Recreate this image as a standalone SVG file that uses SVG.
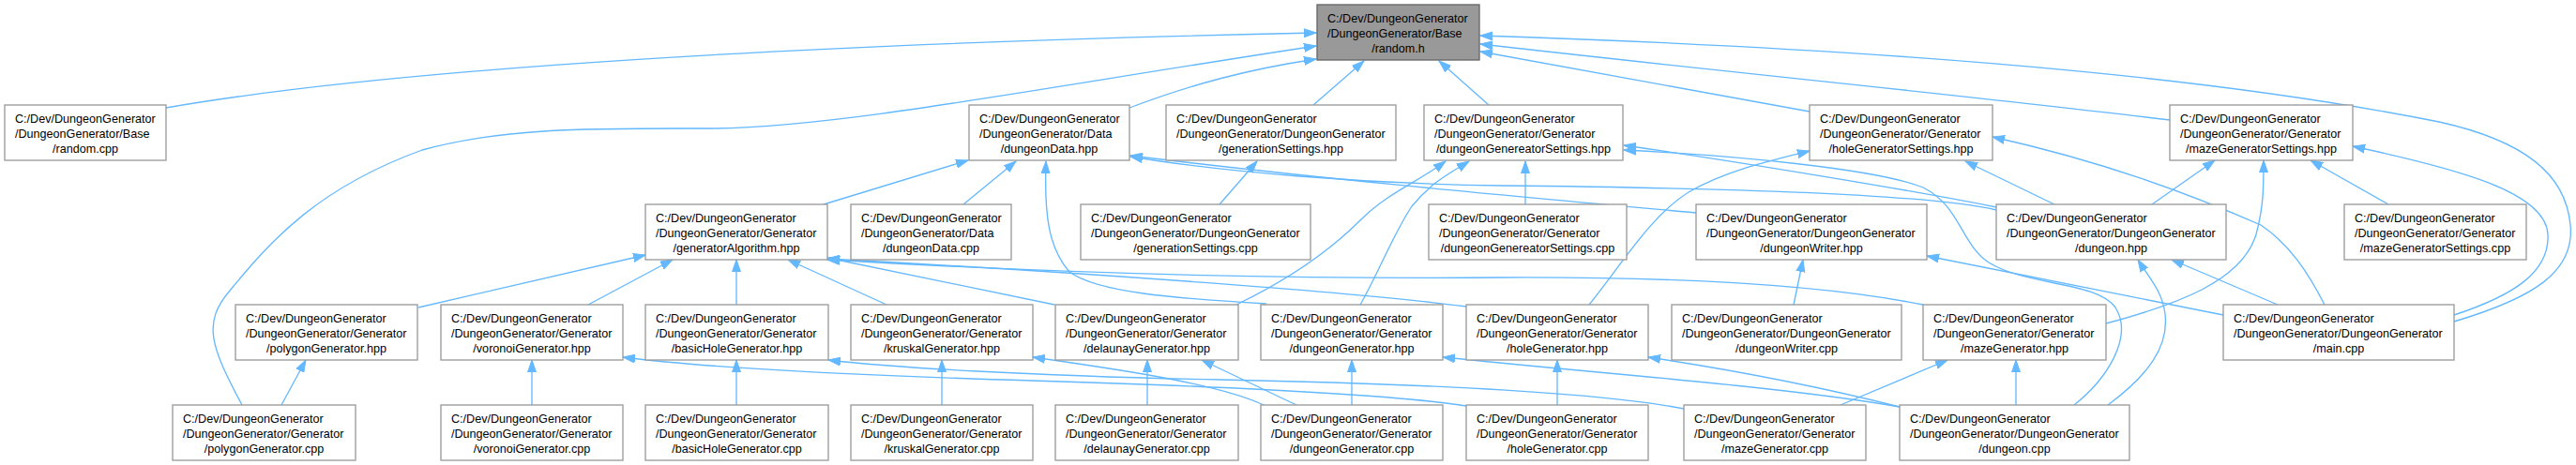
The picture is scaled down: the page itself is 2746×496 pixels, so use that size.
<svg xmlns="http://www.w3.org/2000/svg" width="2746" height="496" viewBox="0 0 2746 496">
<style>
.n rect{fill:#ffffff;stroke:#999999;stroke-width:1.33}
.root rect{fill:#999999;stroke:#666666;stroke-width:1.33}
text{font-family:"Liberation Sans",Arial,Helvetica,sans-serif;font-size:12.6px;fill:#000000}
.c{text-anchor:middle}
#edges path{fill:none;stroke:#63b8ff;stroke-width:1.33;marker-end:url(#ah)}
</style>
<defs>
<marker id="ah" markerUnits="userSpaceOnUse" markerWidth="14" markerHeight="10" refX="13" refY="5" orient="auto">
<path d="M0,0.5 L13,5 L0,9.5 z" fill="#63b8ff" stroke="#63b8ff" stroke-width="1"/>
</marker>
</defs>
<rect width="2746" height="496" fill="#ffffff"/>
<g id="edges">
<path d="M177,115 C350,85 700,50 1403,35"/>
<path d="M258,432 C225,370 215,345 245,310 C290,255 340,200 450,160 C540,135 640,137 760,137 C900,135 1100,95 1403,49"/>
<path d="M1204,115 C1270,90 1330,74 1403,63"/>
<path d="M1400,112 L1454,65"/>
<path d="M1587,112 L1534,65"/>
<path d="M1929,119 L1578,55"/>
<path d="M2313,128 C2100,102 1850,78 1578,47"/>
<path d="M2616,343 C2700,318 2745,290 2740,240 C2735,185 2690,150 2600,130 C2400,90 2100,55 1578,38"/>
<path d="M878,218 L1032,171"/>
<path d="M1027,218 L1083,172"/>
<path d="M1350,324 C1250,318 1170,312 1140,290 C1118,265 1113,230 1115,172"/>
<path d="M1300,218 L1340,172"/>
<path d="M1808,227 C1600,208 1400,190 1205,166"/>
<path d="M2128,224 C2050,205 1800,200 1600,198 C1450,196 1300,183 1205,167"/>
<path d="M1318,325 C1380,295 1420,265 1450,235 C1480,205 1510,195 1541,172"/>
<path d="M1450,325 C1470,290 1485,250 1505,220 C1525,195 1545,185 1566,172"/>
<path d="M1626,218 L1626,172"/>
<path d="M2128,221 C2050,205 1850,172 1731,155"/>
<path d="M2211,432 C2245,405 2275,360 2255,328 C2235,300 2160,305 2120,280 C2090,260 2090,220 2050,200 C2000,180 1850,166 1731,160"/>
<path d="M2190,218 L2095,172"/>
<path d="M2294,218 L2361,171"/>
<path d="M1694,325 C1730,280 1760,230 1800,205 C1840,182 1885,172 1929,161"/>
<path d="M2478,325 C2460,290 2440,260 2410,240 C2330,205 2240,172 2124,146"/>
<path d="M2616,336 C2680,315 2718,290 2716,250 C2714,205 2620,180 2508,156"/>
<path d="M2546,218 L2463,171"/>
<path d="M2245,345 C2320,325 2390,300 2405,250 C2413,220 2413,200 2413,171"/>
<path d="M2428,325 L2315,277"/>
<path d="M2247,432 C2290,400 2312,370 2308,335 C2305,310 2290,295 2279,277"/>
<path d="M2370,336 L2054,273"/>
<path d="M1912,325 L1922,277"/>
<path d="M446,328 L688,272"/>
<path d="M627,325 L717,277"/>
<path d="M785,325 L785,277"/>
<path d="M945,325 L840,277"/>
<path d="M1124,325 L882,275"/>
<path d="M1563,327 C1450,312 1150,290 882,276"/>
<path d="M2050,325 C1950,305 1800,295 1600,296 C1350,298 1100,290 882,277"/>
<path d="M1441,432 L1441,384"/>
<path d="M1382,432 L1281,384"/>
<path d="M1347,432 C1300,410 1200,395 1101,381"/>
<path d="M1563,433 C1480,420 1300,412 1100,406 C900,400 750,392 664,381"/>
<path d="M1795,436 C1700,418 1500,409 1300,405 C1100,401 950,392 883,384"/>
<path d="M1660,432 L1660,384"/>
<path d="M2025,434 C1900,412 1700,398 1538,381"/>
<path d="M2025,434 C1950,415 1850,395 1757,381"/>
<path d="M2149,432 L2149,384"/>
<path d="M1962,432 L2076,384"/>
<path d="M300,432 L326,384"/>
<path d="M567,432 L567,384"/>
<path d="M785,432 L785,384"/>
<path d="M1004,432 L1004,384"/>
<path d="M1223,432 L1223,384"/>
</g>
<g id="random_h" class="root"><rect x="1404" y="5" width="173" height="59"/><text x="1415" y="23.5">C:/Dev/DungeonGenerator</text><text x="1415" y="39.5">/DungeonGenerator/Base</text><text class="c" x="1490.5" y="55.5">/random.h</text></g>
<g id="random_cpp" class="n"><rect x="5" y="112" width="172" height="59"/><text x="16" y="130.5">C:/Dev/DungeonGenerator</text><text x="16" y="146.5">/DungeonGenerator/Base</text><text class="c" x="91" y="162.5">/random.cpp</text></g>
<g id="dungeonData_hpp" class="n"><rect x="1033" y="112" width="171" height="59"/><text x="1044" y="130.5">C:/Dev/DungeonGenerator</text><text x="1044" y="146.5">/DungeonGenerator/Data</text><text class="c" x="1118.5" y="162.5">/dungeonData.hpp</text></g>
<g id="generationSettings_hpp" class="n"><rect x="1243" y="112" width="245" height="59"/><text x="1254" y="130.5">C:/Dev/DungeonGenerator</text><text x="1254" y="146.5">/DungeonGenerator/DungeonGenerator</text><text class="c" x="1365.5" y="162.5">/generationSettings.hpp</text></g>
<g id="dungeonGenereatorSettings_hpp" class="n"><rect x="1518" y="112" width="212" height="59"/><text x="1529" y="130.5">C:/Dev/DungeonGenerator</text><text x="1529" y="146.5">/DungeonGenerator/Generator</text><text class="c" x="1624" y="162.5">/dungeonGenereatorSettings.hpp</text></g>
<g id="holeGeneratorSettings_hpp" class="n"><rect x="1929" y="112" width="195" height="59"/><text x="1940" y="130.5">C:/Dev/DungeonGenerator</text><text x="1940" y="146.5">/DungeonGenerator/Generator</text><text class="c" x="2026.5" y="162.5">/holeGeneratorSettings.hpp</text></g>
<g id="mazeGeneratorSettings_hpp" class="n"><rect x="2313" y="112" width="195" height="59"/><text x="2324" y="130.5">C:/Dev/DungeonGenerator</text><text x="2324" y="146.5">/DungeonGenerator/Generator</text><text class="c" x="2410.5" y="162.5">/mazeGeneratorSettings.hpp</text></g>
<g id="generatorAlgorithm_hpp" class="n"><rect x="688" y="218" width="194" height="59"/><text x="699" y="236.5">C:/Dev/DungeonGenerator</text><text x="699" y="252.5">/DungeonGenerator/Generator</text><text class="c" x="785" y="268.5">/generatorAlgorithm.hpp</text></g>
<g id="dungeonData_cpp" class="n"><rect x="907" y="218" width="171" height="59"/><text x="918" y="236.5">C:/Dev/DungeonGenerator</text><text x="918" y="252.5">/DungeonGenerator/Data</text><text class="c" x="992.5" y="268.5">/dungeonData.cpp</text></g>
<g id="generationSettings_cpp" class="n"><rect x="1152" y="218" width="245" height="59"/><text x="1163" y="236.5">C:/Dev/DungeonGenerator</text><text x="1163" y="252.5">/DungeonGenerator/DungeonGenerator</text><text class="c" x="1274.5" y="268.5">/generationSettings.cpp</text></g>
<g id="dungeonGenereatorSettings_cpp" class="n"><rect x="1523" y="218" width="211" height="59"/><text x="1534" y="236.5">C:/Dev/DungeonGenerator</text><text x="1534" y="252.5">/DungeonGenerator/Generator</text><text class="c" x="1628.5" y="268.5">/dungeonGenereatorSettings.cpp</text></g>
<g id="dungeonWriter_hpp" class="n"><rect x="1808" y="218" width="246" height="59"/><text x="1819" y="236.5">C:/Dev/DungeonGenerator</text><text x="1819" y="252.5">/DungeonGenerator/DungeonGenerator</text><text class="c" x="1931" y="268.5">/dungeonWriter.hpp</text></g>
<g id="dungeon_hpp" class="n"><rect x="2128" y="218" width="245" height="59"/><text x="2139" y="236.5">C:/Dev/DungeonGenerator</text><text x="2139" y="252.5">/DungeonGenerator/DungeonGenerator</text><text class="c" x="2250.5" y="268.5">/dungeon.hpp</text></g>
<g id="mazeGeneratorSettings_cpp" class="n"><rect x="2499" y="218" width="194" height="59"/><text x="2510" y="236.5">C:/Dev/DungeonGenerator</text><text x="2510" y="252.5">/DungeonGenerator/Generator</text><text class="c" x="2596" y="268.5">/mazeGeneratorSettings.cpp</text></g>
<g id="polygonGenerator_hpp" class="n"><rect x="251" y="325" width="194" height="59"/><text x="262" y="343.5">C:/Dev/DungeonGenerator</text><text x="262" y="359.5">/DungeonGenerator/Generator</text><text class="c" x="348" y="375.5">/polygonGenerator.hpp</text></g>
<g id="voronoiGenerator_hpp" class="n"><rect x="470" y="325" width="194" height="59"/><text x="481" y="343.5">C:/Dev/DungeonGenerator</text><text x="481" y="359.5">/DungeonGenerator/Generator</text><text class="c" x="567" y="375.5">/voronoiGenerator.hpp</text></g>
<g id="basicHoleGenerator_hpp" class="n"><rect x="688" y="325" width="195" height="59"/><text x="699" y="343.5">C:/Dev/DungeonGenerator</text><text x="699" y="359.5">/DungeonGenerator/Generator</text><text class="c" x="785.5" y="375.5">/basicHoleGenerator.hpp</text></g>
<g id="kruskalGenerator_hpp" class="n"><rect x="907" y="325" width="194" height="59"/><text x="918" y="343.5">C:/Dev/DungeonGenerator</text><text x="918" y="359.5">/DungeonGenerator/Generator</text><text class="c" x="1004" y="375.5">/kruskalGenerator.hpp</text></g>
<g id="delaunayGenerator_hpp" class="n"><rect x="1125" y="325" width="195" height="59"/><text x="1136" y="343.5">C:/Dev/DungeonGenerator</text><text x="1136" y="359.5">/DungeonGenerator/Generator</text><text class="c" x="1222.5" y="375.5">/delaunayGenerator.hpp</text></g>
<g id="dungeonGenerator_hpp" class="n"><rect x="1344" y="325" width="194" height="59"/><text x="1355" y="343.5">C:/Dev/DungeonGenerator</text><text x="1355" y="359.5">/DungeonGenerator/Generator</text><text class="c" x="1441" y="375.5">/dungeonGenerator.hpp</text></g>
<g id="holeGenerator_hpp" class="n"><rect x="1563" y="325" width="194" height="59"/><text x="1574" y="343.5">C:/Dev/DungeonGenerator</text><text x="1574" y="359.5">/DungeonGenerator/Generator</text><text class="c" x="1660" y="375.5">/holeGenerator.hpp</text></g>
<g id="dungeonWriter_cpp" class="n"><rect x="1782" y="325" width="245" height="59"/><text x="1793" y="343.5">C:/Dev/DungeonGenerator</text><text x="1793" y="359.5">/DungeonGenerator/DungeonGenerator</text><text class="c" x="1904.5" y="375.5">/dungeonWriter.cpp</text></g>
<g id="mazeGenerator_hpp" class="n"><rect x="2050" y="325" width="195" height="59"/><text x="2061" y="343.5">C:/Dev/DungeonGenerator</text><text x="2061" y="359.5">/DungeonGenerator/Generator</text><text class="c" x="2147.5" y="375.5">/mazeGenerator.hpp</text></g>
<g id="main_cpp" class="n"><rect x="2370" y="325" width="246" height="59"/><text x="2381" y="343.5">C:/Dev/DungeonGenerator</text><text x="2381" y="359.5">/DungeonGenerator/DungeonGenerator</text><text class="c" x="2493" y="375.5">/main.cpp</text></g>
<g id="polygonGenerator_cpp" class="n"><rect x="184" y="432" width="195" height="59"/><text x="195" y="450.5">C:/Dev/DungeonGenerator</text><text x="195" y="466.5">/DungeonGenerator/Generator</text><text class="c" x="281.5" y="482.5">/polygonGenerator.cpp</text></g>
<g id="voronoiGenerator_cpp" class="n"><rect x="470" y="432" width="194" height="59"/><text x="481" y="450.5">C:/Dev/DungeonGenerator</text><text x="481" y="466.5">/DungeonGenerator/Generator</text><text class="c" x="567" y="482.5">/voronoiGenerator.cpp</text></g>
<g id="basicHoleGenerator_cpp" class="n"><rect x="688" y="432" width="195" height="59"/><text x="699" y="450.5">C:/Dev/DungeonGenerator</text><text x="699" y="466.5">/DungeonGenerator/Generator</text><text class="c" x="785.5" y="482.5">/basicHoleGenerator.cpp</text></g>
<g id="kruskalGenerator_cpp" class="n"><rect x="907" y="432" width="194" height="59"/><text x="918" y="450.5">C:/Dev/DungeonGenerator</text><text x="918" y="466.5">/DungeonGenerator/Generator</text><text class="c" x="1004" y="482.5">/kruskalGenerator.cpp</text></g>
<g id="delaunayGenerator_cpp" class="n"><rect x="1125" y="432" width="195" height="59"/><text x="1136" y="450.5">C:/Dev/DungeonGenerator</text><text x="1136" y="466.5">/DungeonGenerator/Generator</text><text class="c" x="1222.5" y="482.5">/delaunayGenerator.cpp</text></g>
<g id="dungeonGenerator_cpp" class="n"><rect x="1344" y="432" width="194" height="59"/><text x="1355" y="450.5">C:/Dev/DungeonGenerator</text><text x="1355" y="466.5">/DungeonGenerator/Generator</text><text class="c" x="1441" y="482.5">/dungeonGenerator.cpp</text></g>
<g id="holeGenerator_cpp" class="n"><rect x="1563" y="432" width="194" height="59"/><text x="1574" y="450.5">C:/Dev/DungeonGenerator</text><text x="1574" y="466.5">/DungeonGenerator/Generator</text><text class="c" x="1660" y="482.5">/holeGenerator.cpp</text></g>
<g id="mazeGenerator_cpp" class="n"><rect x="1795" y="432" width="194" height="59"/><text x="1806" y="450.5">C:/Dev/DungeonGenerator</text><text x="1806" y="466.5">/DungeonGenerator/Generator</text><text class="c" x="1892" y="482.5">/mazeGenerator.cpp</text></g>
<g id="dungeon_cpp" class="n"><rect x="2025" y="432" width="245" height="59"/><text x="2036" y="450.5">C:/Dev/DungeonGenerator</text><text x="2036" y="466.5">/DungeonGenerator/DungeonGenerator</text><text class="c" x="2147.5" y="482.5">/dungeon.cpp</text></g>
</svg>
